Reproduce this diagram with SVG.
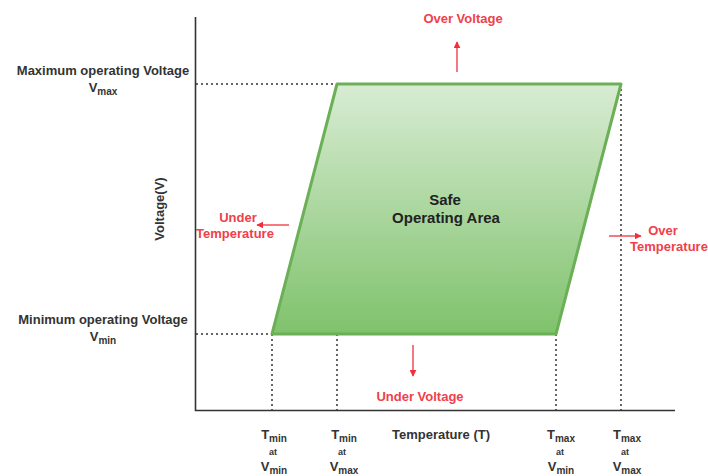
<svg xmlns="http://www.w3.org/2000/svg" width="708" height="476" viewBox="0 0 708 476">
<defs>
<linearGradient id="g" x1="0" y1="0" x2="0" y2="1">
<stop offset="0" stop-color="#d8ecd3"/>
<stop offset="1" stop-color="#7fc26c"/>
</linearGradient>
<marker id="ah" viewBox="0 0 10 10" refX="9" refY="5" markerWidth="7" markerHeight="7" orient="auto" markerUnits="userSpaceOnUse">
<path d="M0,0 L10,5 L0,10 z" fill="#f0303c"/>
</marker>
<style>
.lbl{font-family:"Liberation Sans",Arial,sans-serif;font-weight:bold;font-size:13px;fill:#333;text-anchor:middle}
.big{font-size:15px;fill:#222}
.red{font-family:"Liberation Sans",Arial,sans-serif;font-weight:bold;font-size:13px;fill:#f0404a;text-anchor:middle}
.sub{font-size:10px}
.sm{font-family:"Liberation Sans",Arial,sans-serif;font-weight:bold;font-size:9px;fill:#333;text-anchor:middle}
.dot{stroke:#333;stroke-width:1.5;stroke-dasharray:2 3;fill:none}
.axis{stroke:#333;stroke-width:1.6;fill:none}
.arr{stroke:#f0303c;stroke-width:1.3;fill:none;marker-end:url(#ah)}
</style>
</defs>
<rect width="708" height="476" fill="#fff"/>
<g id="axes">
<path class="axis" d="M195.5,17 V410.5 H675"/>
</g>
<g id="guides">
<path class="dot" d="M196,84 H337"/>
<path class="dot" d="M196,334 H272"/>
<path class="dot" d="M272,334 V410"/>
<path class="dot" d="M337,84 V410"/>
<path class="dot" d="M556,334 V410"/>
<path class="dot" d="M621,84 V410"/>
</g>
<g id="soa">
<polygon points="337,84 621,84 556,334 272,334" fill="url(#g)" stroke="#6bb056" stroke-width="3" stroke-linejoin="round"/>
<text class="lbl big" x="445" y="205">Safe</text>
<text class="lbl big" x="446" y="223">Operating Area</text>
</g>
<g id="labels">
<text class="lbl" x="103" y="75">Maximum operating Voltage</text>
<text class="lbl" x="103" y="92">V<tspan class="sub" dy="3">max</tspan></text>
<text class="lbl" x="103" y="324">Minimum operating Voltage</text>
<text class="lbl" x="103" y="341">V<tspan class="sub" dy="3">min</tspan></text>
<text class="lbl" transform="translate(164,209) rotate(-90)">Voltage(V)</text>
<text class="lbl" x="441" y="439">Temperature (T)</text>
<g id="tminvmin"><text class="lbl" x="274" y="439">T<tspan class="sub" dy="3">min</tspan></text><text class="sm" x="273" y="455">at</text><text class="lbl" x="274" y="471">V<tspan class="sub" dy="3">min</tspan></text></g>
<g id="tminvmax"><text class="lbl" x="344" y="439">T<tspan class="sub" dy="3">min</tspan></text><text class="sm" x="342" y="455">at</text><text class="lbl" x="344" y="471">V<tspan class="sub" dy="3">max</tspan></text></g>
<g id="tmaxvmin"><text class="lbl" x="561" y="439">T<tspan class="sub" dy="3">max</tspan></text><text class="sm" x="560" y="455">at</text><text class="lbl" x="561" y="471">V<tspan class="sub" dy="3">min</tspan></text></g>
<g id="tmaxvmax"><text class="lbl" x="627" y="439">T<tspan class="sub" dy="3">max</tspan></text><text class="sm" x="625" y="455">at</text><text class="lbl" x="627" y="471">V<tspan class="sub" dy="3">max</tspan></text></g>
</g>
<g id="connectors">
<path class="arr" d="M457,72 V42"/>
<path class="arr" d="M413,345 V376"/>
<path class="arr" d="M289,225 H257"/>
<path class="arr" d="M609,236 H641"/>
</g>
<g id="limits">
<text class="red" x="463" y="23">Over Voltage</text>
<text class="red" x="420" y="401">Under Voltage</text>
<text class="red" x="238" y="222">Under</text>
<text class="red" x="235" y="238">Temperature</text>
<text class="red" x="663" y="235">Over</text>
<text class="red" x="669" y="251">Temperature</text>
</g>
</svg>
